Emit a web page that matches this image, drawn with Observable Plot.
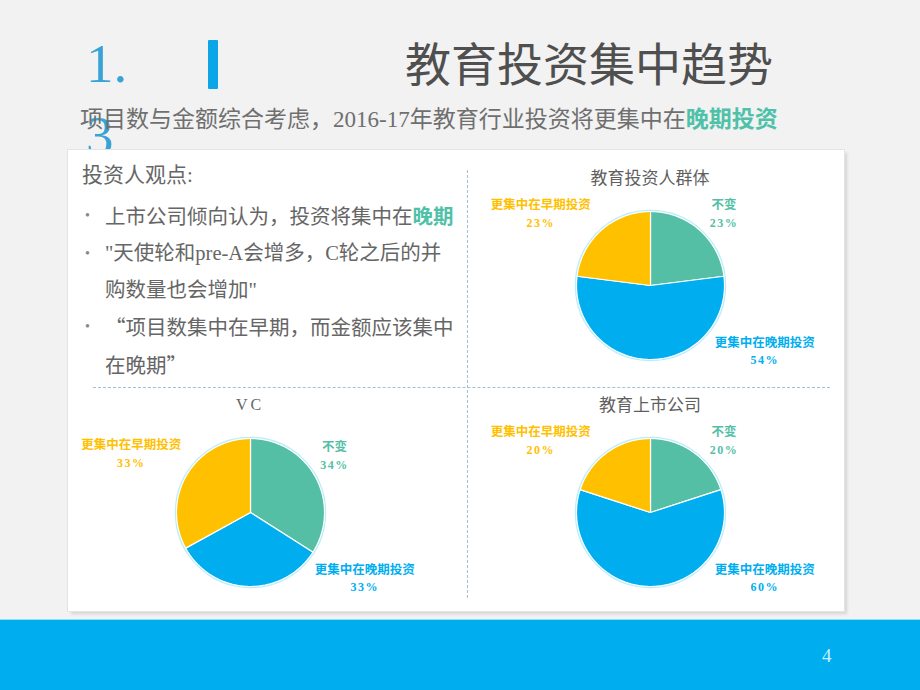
<!DOCTYPE html>
<html>
<head>
<meta charset="utf-8">
<script src="https://cdn.jsdelivr.net/npm/d3@7"></script>
<script src="https://cdn.jsdelivr.net/npm/@observablehq/plot@0.6"></script>
<style>
html,body{margin:0;padding:0}
body{width:920px;height:690px;background:#f2f2f2;position:relative;overflow:hidden;font-family:"Liberation Serif","Noto Sans CJK SC",serif;}
.abs{position:absolute}
#num{left:86px;top:28px;font-family:"Liberation Serif";font-size:55px;line-height:72px;color:#3aa3d6;}
#bar{left:208px;top:40px;width:10px;height:49px;background:#0aa6e8;border-radius:1px}
#title{left:405px;top:38px;font-family:"Noto Sans CJK SC";font-size:46px;line-height:46px;color:#4f4f4f;white-space:nowrap}
#subtitle{left:80px;top:106px;font-size:23px;line-height:23px;color:#6f6f6f;white-space:nowrap}
.hl{color:#4fc1a9;font-weight:bold;font-family:"Noto Sans CJK SC"}
#panel{left:68px;top:150px;width:776px;height:461px;background:#fff;box-shadow:0 0 0 1px #e4e4e4,3px 3px 3px rgba(0,0,0,0.12)}
#hline{left:93px;top:387px;width:737px;height:0;border-top:1px dashed #9fc2d3}
#vline{left:467px;top:170px;width:0;height:428px;border-left:1px dashed #9fc2d3}
#head{left:82px;top:163px;font-size:21px;line-height:24px;color:#666;white-space:nowrap}
#list{left:82px;top:197px;font-size:20.5px;line-height:36.3px;color:#666;white-space:nowrap}
.item{position:relative;padding-left:23px}
.item::before{content:"•";position:absolute;left:3px;top:1px;font-size:14px;color:#888}
.cjk{font-family:"Noto Sans CJK SC"}
.ptitle{width:380px;text-align:center;font-size:17px;line-height:20px;color:#5f5f5f;font-family:"Noto Sans CJK SC";white-space:nowrap}
.ptitle.serif{font-family:"Liberation Serif";font-size:16px;letter-spacing:3px;color:#666}
.pie{position:absolute}
.pie g[font-family="Liberation Serif"] text{letter-spacing:1.5px}
#footer{left:0;top:619px;width:920px;height:71px;background:#00aeef;border-top:1px solid #8fe0fb}
#page{left:822px;top:646px;font-family:"Liberation Serif";font-size:19px;line-height:20px;color:#c5f0ff}
</style>
</head>
<body>
<div id="num" class="abs">1.<br>3</div>
<div id="bar" class="abs"></div>
<div id="title" class="abs">教育投资集中趋势</div>
<div id="subtitle" class="abs">项目数与金额综合考虑，2016-17年教育行业投资将更集中在<span class="hl">晚期投资</span></div>
<div id="panel" class="abs"></div>
<div id="hline" class="abs"></div>
<div id="vline" class="abs"></div>
<div id="head" class="abs">投资人观点:</div>
<div id="list" class="abs">
  <div class="item">上市公司倾向认为，投资将集中在<span class="hl">晚期</span></div>
  <div class="item">"天使轮和pre-A会增多，C轮之后的并<br>购数量也会增加"</div>
  <div class="item"> <span class="cjk">“</span>项目数集中在早期，而金额应该集中<br>在晚期<span class="cjk">”</span></div>
</div>
<div id="t1" class="abs ptitle" style="left:460px;top:167px">教育投资人群体</div>
<div id="t2" class="abs ptitle serif" style="left:60px;top:395px">VC</div>
<div id="t3" class="abs ptitle" style="left:460px;top:394px">教育上市公司</div>
<div id="p1" class="pie" style="left:460px;top:175px"></div>
<div id="p2" class="pie" style="left:60px;top:402px"></div>
<div id="p3" class="pie" style="left:460px;top:402px"></div>
<div id="footer" class="abs"></div>
<div id="page" class="abs">4</div>
<script>
// ---- data ----
const categories = ["不变", "更集中在晚期投资", "更集中在早期投资"];
const chartTitles = ["教育投资人群体", "VC", "教育上市公司"];
const investorGroup = [23, 54, 23];
const vcValues = [34, 33, 33];
const listedCompanies = [20, 60, 20];
const sliceColors = ["#55bfa6", "#00aeef", "#ffc000"];

function pieChart(values) {
  const R = 74, W = 380, H = 220;
  const arcs = d3.pie().sort(null)(values);
  const deg = Math.PI / 180;
  const slices = arcs.flatMap((a, i) => {
    const n = Math.max(2, Math.ceil((a.endAngle - a.startAngle) / deg));
    const pts = [{category: categories[i], x: 0, y: 0}];
    for (let k = 0; k <= n; k++) {
      const t = a.startAngle + (a.endAngle - a.startAngle) * k / n;
      pts.push({category: categories[i], x: R * Math.sin(t), y: R * Math.cos(t)});
    }
    return pts;
  });
  const labels = arcs.map((a, i) => {
    let mid = (a.startAngle + a.endAngle) / 2;
    // no room below the pie: bottom labels are nudged to the lower right
    if (mid > 0.75 * Math.PI && mid < 1.25 * Math.PI) mid = 127 * deg;
    // keep upper labels clear of the chart title
    const s = Math.sin(mid) >= 0 ? 1 : -1;
    let phi = mid > Math.PI ? mid - 2 * Math.PI : mid;
    if (Math.abs(phi) < 48 * deg) phi = s * 48 * deg;
    const cx = (R + 6) * Math.sin(phi), cy = (R + 6) * Math.cos(phi);
    const w = Math.max(categories[i].length * 12.6, 28), h = 36;
    return {
      category: categories[i],
      pct: values[i] + "%",
      x: cx + Math.sign(Math.sin(phi)) * w / 2,
      y: cy + Math.sign(Math.cos(phi)) * h / 2
    };
  });
  return Plot.plot({
    width: W, height: H,
    marginTop: 0, marginRight: 0, marginBottom: 0, marginLeft: 0,
    style: {background: "transparent", overflow: "visible"},
    x: {domain: [-W / 2, W / 2], axis: null},
    y: {domain: [-H / 2, H / 2], axis: null},
    color: {domain: categories, range: sliceColors},
    marks: [
      Plot.dot([values], {frameAnchor: "middle", r: R + 0.5, stroke: "#a9e8fb", strokeWidth: 2.5, fill: "none", strokeOpacity: 0.8}),
      Plot.line(slices, {x: "x", y: "y", z: "category", fill: "category", stroke: "white", strokeWidth: 1.2, curve: "linear-closed"}),
      Plot.text(labels, {x: "x", y: "y", text: "category", fill: "category", dy: -9, fontSize: 12.5, fontWeight: "bold", fontFamily: "Noto Sans CJK SC"}),
      Plot.text(labels, {x: "x", y: "y", text: "pct", fill: "category", dy: 9, fontSize: 12, fontWeight: "bold", fontFamily: "Liberation Serif"})
    ]
  });
}

document.getElementById("p1").appendChild(pieChart(investorGroup));
document.getElementById("p2").appendChild(pieChart(vcValues));
document.getElementById("p3").appendChild(pieChart(listedCompanies));
</script>
</body>
</html>
